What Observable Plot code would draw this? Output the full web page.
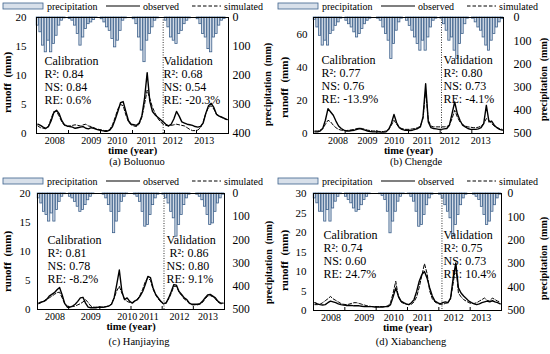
<!DOCTYPE html>
<html><head><meta charset="utf-8">
<script src="https://cdn.jsdelivr.net/npm/d3@7"></script>
<script src="https://cdn.jsdelivr.net/npm/@observablehq/plot@0.6"></script>
<style>
body{margin:0;background:#fff;}
#root{position:relative;width:550px;height:354px;overflow:hidden;font-family:"Liberation Serif",serif;background:#fff;}
.panel{position:absolute;width:275px;height:177px;}
.panel svg.plot{position:absolute;left:0;top:0;}
.legend{position:absolute;left:0;top:-4px;overflow:visible;}
.caption{position:absolute;font-size:10.5px;white-space:nowrap;transform:translate(-50%,-50%);}
</style></head><body><div id="root"></div>
<script>
// month index 0..71 (2008-2013)
const months = d3.range(72);
const years = ["2008","2009","2010","2011","2012","2013"];
const boundaries = [12,24,36,48,60];

// (a) Boluonuo
const precipA = [28,51,97,120,80,120,91,63,28,11,3,0, 5,11,28,57,97,69,40,23,17,9,2,0, 6,17,34,46,74,103,80,46,11,3,0,0, 6,23,69,114,154,80,57,34,11,3,0,0, 11,34,69,80,91,57,46,23,11,3,0,0, 6,23,57,69,109,120,69,57,28,11,5,0];
const obsA = [1.6,1.4,1.1,0.9,1.2,2.2,3.6,4.0,3.4,2.2,1.5,1.3, 1.2,1.1,0.9,1.0,1.1,1.2,0.9,0.8,1.0,0.9,0.7,0.6, 0.5,0.4,0.4,0.6,1.2,2.4,3.8,5.3,5.5,3.8,2.2,1.6, 1.5,1.4,1.8,3.0,6.0,10.5,5.5,3.8,3.2,2.8,2.4,2.0, 1.6,1.3,1.6,2.5,3.8,3.0,2.0,1.8,1.6,1.5,1.4,1.2, 1.1,1.2,1.8,3.5,4.8,5.2,4.5,3.3,3.0,2.8,2.6,2.4];
const simA = [1.3,1.0,0.9,0.8,1.3,2.6,3.8,3.8,3.0,2.0,1.4,1.2, 1.3,1.4,1.5,1.4,1.3,1.5,1.6,1.3,1.2,1.0,0.8,0.7, 0.6,0.5,0.5,0.7,1.5,2.8,4.2,5.0,4.8,3.2,2.0,1.5, 1.3,1.2,1.6,2.8,5.0,7.5,6.0,4.5,3.5,2.6,2.0,1.6, 1.4,1.3,1.4,1.5,1.6,1.5,1.4,1.3,1.0,0.7,0.5,0.5, 0.6,1.0,2.0,3.5,4.5,4.8,4.2,3.3,3.0,2.8,2.5,2.4];
const yearPosA = [6.8,20.5,30.3,41.3,51.1,62.9];
const yTicksA = [0,5,10,15,20];
const pTicksA = [0,100,200,300,400];

// (b) Chengde
const precipB = [10,43,79,121,100,121,71,57,36,21,5,0, 14,29,43,64,86,71,50,29,14,5,0,0, 5,14,43,71,100,179,114,57,21,5,0,14, 36,57,86,114,143,100,143,86,43,14,5,0, 5,29,57,100,86,143,179,114,71,29,5,0, 5,21,43,57,86,121,143,100,71,43,21,7];
const obsB = [1.0,1.0,1.5,3.0,8.0,15.0,13.0,11.0,7.5,4.5,3.0,2.0, 1.5,1.5,1.8,2.0,2.5,3.0,2.5,2.0,1.5,1.2,1.0,1.0, 1.0,0.8,0.8,1.0,2.5,6.0,11.5,6.5,3.5,2.5,2.0,2.0, 1.8,2.0,2.5,3.0,4.0,10.0,30.0,7.0,3.5,3.0,2.8,2.5, 2.5,2.8,3.0,5.0,12.0,19.0,12.0,8.0,5.0,4.0,3.0,2.5, 2.5,2.5,2.8,3.5,6.0,17.0,7.0,7.5,5.0,3.5,2.5,2.0];
const simB = [1.5,1.5,2.0,3.0,5.5,8.0,7.0,5.0,3.5,2.5,2.0,1.8, 1.8,2.0,2.2,2.5,3.0,3.2,3.0,2.5,2.0,1.8,1.5,1.5, 1.3,1.2,1.2,1.5,2.5,5.0,8.0,5.5,3.5,3.0,2.5,2.5, 2.5,2.8,3.0,3.5,4.5,9.0,26.0,8.0,4.5,4.0,4.0,4.0, 4.0,4.0,4.2,5.0,9.0,14.0,10.0,7.0,5.5,4.5,4.0,3.8, 3.5,3.5,3.8,4.5,6.0,9.0,8.0,6.0,4.5,3.5,3.0,2.5];
const yearPosB = [9.3,20.5,30.6,41.3,51.6,63.4];
const yTicksB = [0,20,40,60];
const pTicksB = [0,100,200,300,400,500];

// (c) Hanjiaying
const precipC = [21,43,79,93,121,86,121,71,36,14,3,0, 14,21,36,57,79,71,50,29,14,3,0,0, 0,5,21,50,79,171,121,79,36,14,3,0, 0,5,14,36,79,143,136,93,50,21,5,0, 5,21,43,79,107,186,136,93,50,21,5,0, 0,5,14,29,57,93,136,129,79,43,21,5];
const obsC = [1.1,1.3,1.4,1.7,2.3,2.6,2.9,3.4,3.8,2.5,1.0,0.4, 0.4,0.6,0.9,1.4,2.0,2.1,1.1,0.4,0.3,0.3,0.3,0.4, 0.4,0.4,0.5,0.6,0.9,2.0,4.3,6.8,3.1,1.7,2.0,1.4, 1.1,1.5,1.7,2.3,3.1,4.3,5.7,5.5,3.7,2.6,2.0,1.4, 1.0,1.1,2.0,3.1,4.3,4.2,3.1,2.6,2.0,1.7,1.1,0.9, 0.9,0.9,1.0,1.4,2.0,2.5,2.6,2.3,2.0,1.4,1.1,1.1];
const simC = [1.0,1.2,1.5,1.8,2.0,2.3,2.6,2.9,3.0,2.0,1.0,0.6, 0.5,0.5,0.6,0.8,1.0,1.3,1.7,1.2,0.6,0.4,0.4,0.4, 0.4,0.4,0.5,0.6,1.0,2.0,3.2,4.0,2.8,1.8,1.4,1.2, 1.2,1.4,1.8,2.5,3.5,4.8,5.5,5.0,3.5,2.5,1.8,1.3, 1.0,1.2,1.8,2.8,4.0,4.0,3.0,2.4,1.8,1.5,1.0,0.8, 0.8,0.8,0.9,1.2,1.8,2.3,2.4,2.2,1.8,1.3,1.0,1.0];
const yearPosC = [6.7,20.5,34.6,42.9,54.7,65.6];
const yTicksC = [0,5,10,15,20];
const pTicksC = [0,100,200,300,400,500];

// (d) Xiabancheng
const precipD = [21,42,78,78,120,71,120,64,35,14,3,0, 14,28,42,64,78,71,50,28,14,3,0,0, 0,3,10,28,78,170,120,78,35,14,3,0, 3,14,35,78,142,135,92,50,21,5,0,0, 5,21,50,78,106,184,135,92,50,21,5,0, 0,5,14,28,57,92,135,120,78,50,21,5];
const obsD = [2.0,1.7,1.5,1.4,1.5,2.0,2.4,2.2,2.0,1.7,1.5,1.4, 1.3,1.3,1.3,1.2,1.2,1.2,1.1,1.0,1.0,1.0,1.0,0.9, 0.9,0.9,0.9,1.0,1.0,1.5,3.5,5.8,3.7,2.4,2.0,1.7, 1.5,2.0,2.8,4.9,7.5,9.2,10.0,8.3,5.8,3.7,2.4,2.0, 1.7,2.0,2.2,2.0,3.2,8.3,12.2,5.8,4.5,3.7,3.1,2.4, 2.0,1.7,1.5,1.7,2.0,2.2,2.4,2.2,2.5,2.2,2.0,1.7];
const simD = [1.5,1.5,1.6,2.0,2.5,3.0,3.6,3.0,2.6,2.2,1.8,1.6, 1.5,1.6,1.8,2.0,2.0,1.8,1.6,1.4,1.2,1.1,1.0,1.0, 1.0,1.0,1.0,1.0,1.2,2.0,4.5,7.5,3.5,2.2,1.8,1.6, 1.5,1.6,2.2,3.5,6.0,9.0,12.0,9.5,5.0,3.0,2.2,1.8, 1.6,1.6,1.8,2.0,3.0,7.0,11.5,4.5,3.5,2.8,2.4,2.0, 1.8,1.8,2.0,2.4,2.8,3.2,2.6,2.4,3.2,2.8,2.4,2.2];
const yearPosD = [6.7,19.4,30.7,41.8,53.7,64.2];
const yTicksD = [0,5,10,15,20,25,30];
const pTicksD = [0,100,200,300,400,500];

const panels = [
  {left:0, top:0, name:"(a) Boluonuo", capX:137, capY:161, ymax:20, pmax:400, precip:precipA, obs:obsA, sim:simA, yearPos:yearPosA, yTicks:yTicksA, pTicks:pTicksA, divider:47.5,
   L:36, R:228, T:17, B:133, padL:10, padR:4, lx:7, ly:82, rx:267, ry:84, rFont:12,
   cal:["Calibration","R²: 0.84","NS: 0.84","RE: 0.6%"], val:["Validation","R²: 0.68","NS: 0.54","RE: -20.3%"], calX:44, valX:163, textY:55, legY:6},
  {left:275, top:0, name:"(b) Chengde", capX:141, capY:161, ymax:70, pmax:500, precip:precipB, obs:obsB, sim:simB, yearPos:yearPosB, yTicks:yTicksB, pTicks:pTicksB, divider:48.5,
   L:38, R:228, T:17, B:133, padL:6, padR:10, lx:9, ly:87, rx:268, ry:79, rFont:12,
   cal:["Calibration","R²: 0.77","NS: 0.76","RE: -13.9%"], val:["Validation","R²: 0.80","NS: 0.73","RE: -4.1%"], calX:46, valX:168, textY:54, legY:6},
  {left:0, top:177, name:"(c) Hanjiaying", capX:139, capY:164, ymax:20, pmax:500, precip:precipC, obs:obsC, sim:simC, yearPos:yearPosC, yTicks:yTicksC, pTicks:pTicksC, divider:48.7,
   L:37, R:224, T:16, B:132, padL:7, padR:8, lx:7, ly:84, rx:268, ry:85, rFont:11.5,
   cal:["Calibration","R²: 0.81","NS: 0.78","RE: -8.2%"], val:["Validation","\u00a0R²: 0.86","NS: 0.80","RE: 9.1%"], calX:47, valX:166, textY:57, legY:4},
  {left:275, top:177, name:"(d) Xiabancheng", capX:136, capY:164, ymax:30, pmax:500, precip:precipD, obs:obsD, sim:simD, yearPos:yearPosD, yTicks:yTicksD, pTicks:pTicksD, divider:49.2,
   L:38, R:226, T:16, B:133, padL:7, padR:6, lx:9, ly:83, rx:268, ry:81, rFont:11.5,
   cal:["Calibration","R²: 0.74","NS: 0.60","RE: 24.7%"], val:["Validation","R²: 0.75","NS: 0.73","RE: 10.4%"], calX:48, valX:168, textY:52, legY:4}
];

const barFill = "#d3dbe6", barStroke = "#3d618c";
const root = document.getElementById("root");

// legend svg is shifted up by 4px, so local y = legY + 4
function legendSVG(legY) {
  const y = legY + 4;
  return `<svg class="legend" width="275" height="18" style="font-family:'Liberation Serif',serif;font-size:10px">
  <rect x="3" y="${y-3}" width="40" height="6" fill="#d8e0ea" stroke="${barStroke}" stroke-width="0.8"/>
  <text x="47" y="${y+3.5}">precipitation</text>
  <line x1="106" x2="140" y1="${y}" y2="${y}" stroke="black" stroke-width="1.2"/>
  <text x="143" y="${y+3.5}">observed</text>
  <line x1="192" x2="221" y1="${y}" y2="${y}" stroke="black" stroke-width="1" stroke-dasharray="3.5,2"/>
  <text x="224" y="${y+3.5}">simulated</text></svg>`;
}

for (const c of panels) {
  const div = document.createElement("div");
  div.className = "panel";
  div.style.left = c.left + "px";
  div.style.top = c.top + "px";
  const data = months.map(i => ({i, p: c.precip[i], o: c.obs[i], s: c.sim[i]}));
  const toY = p => c.ymax * (1 - p / c.pmax);
  const yearLabel = new Map(c.yearPos.map((v, k) => [v, years[k]]));
  const plot = Plot.plot({
    width: 275, height: 177,
    marginLeft: c.L, marginRight: 275 - c.R, marginTop: c.T, marginBottom: 177 - c.B,
    style: {fontFamily: "'Liberation Serif', serif", fontSize: "11px", color: "black", background: "transparent"},
    x: {domain: [0, 72], axis: null},
    y: {domain: [0, c.ymax], axis: null},
    marks: [
      Plot.rect(data, {x1: d => d.i + 0.08, x2: d => d.i + 0.92, y1: c.ymax, y2: d => toY(d.p), fill: barFill, stroke: barStroke, strokeWidth: 0.8}),
      Plot.line(data, {x: d => d.i + 0.5, y: "s", stroke: "black", strokeWidth: 1, strokeDasharray: "3.5,2"}),
      Plot.line(data, {x: d => d.i + 0.5, y: "o", stroke: "black", strokeWidth: 1.4}),
      Plot.ruleX([c.divider], {stroke: "#333", strokeWidth: 1, strokeDasharray: "1,1.5"}),
      Plot.frame({stroke: "black", strokeWidth: 1}),
      Plot.axisY(c.yTicks, {anchor: "left", tickSize: 0, tickPadding: c.padL, fontSize: 11, label: null}),
      Plot.axisY(c.pTicks.map(toY), {anchor: "right", tickSize: 0, tickPadding: c.padR, fontSize: c.rFont, label: null,
        tickFormat: v => String(Math.round(c.pmax * (1 - v / c.ymax)))}),
      Plot.axisX(c.yearPos, {anchor: "bottom", tickSize: 0, tickPadding: 3, fontSize: 10, label: null, tickFormat: d => yearLabel.get(d)}),
      Plot.axisX(boundaries, {anchor: "bottom", tickSize: 3, dy: -3, tickFormat: () => "", label: null}),
      Plot.text(["runoff\u2002(mm)"], {frameAnchor: "top-left", dx: c.lx - c.L, dy: c.ly - c.T, rotate: -90, fontWeight: "bold", fontSize: 11, textAnchor: "middle", lineAnchor: "middle"}),
      Plot.text(["precipitation\u2002(mm)"], {frameAnchor: "top-right", dx: c.rx - c.R, dy: c.ry - c.T, rotate: -90, fontWeight: "bold", fontSize: 10, textAnchor: "middle", lineAnchor: "middle"}),
      Plot.text(["time (year)"], {frameAnchor: "bottom", dy: 17, fontWeight: "bold", fontSize: 10.5, lineAnchor: "middle"}),
      Plot.text([c.cal.join("\n")], {frameAnchor: "top-left", dx: c.calX - c.L, dy: c.textY - c.T, lineAnchor: "top", textAnchor: "start", lineHeight: 1.08, fontSize: 12}),
      Plot.text([c.val.join("\n")], {frameAnchor: "top-left", dx: c.valX - c.L, dy: c.textY - c.T, lineAnchor: "top", textAnchor: "start", lineHeight: 1.08, fontSize: 12})
    ]
  });
  plot.classList.add("plot");
  div.appendChild(plot);
  div.insertAdjacentHTML("beforeend", legendSVG(c.legY));
  const cap = document.createElement("div");
  cap.className = "caption";
  cap.style.left = c.capX + "px";
  cap.style.top = c.capY + "px";
  cap.textContent = c.name;
  div.appendChild(cap);
  root.appendChild(div);
}
</script></body></html>
